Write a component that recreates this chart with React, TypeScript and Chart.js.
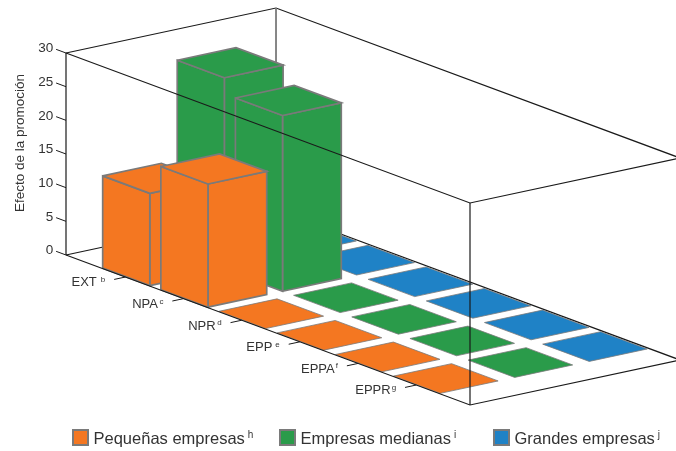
import React, { useEffect, useRef } from "react";
import { Chart, registerables } from "chart.js";

Chart.register(...registerables);

const categories = ["EXT", "NPA", "NPR", "EPP", "EPPA", "EPPR"];
const categoryNotes = ["b", "c", "d", "e", "f", "g"];
const seriesNames = ["Pequeñas empresas", "Empresas medianas", "Grandes empresas"];
const seriesNotes = ["h", "i", "j"];
const pequenas = [13.7, 18.3, 0, 0, 0, 0];
const medianas = [28.5, 26.1, 0, 0, 0, 0];
const grandes = [0, 0, 0, 0, 0, 0];
const seriesValues = [pequenas, medianas, grandes];
const colors = ["#f47721", "#2a9b4a", "#1f82c6"];
const valueTicks = [0, 5, 10, 15, 20, 25, 30];
const axisTitle = "Efecto de la promoción";

const noteGaps = [4, 1.5, 1.5, 3, 1, 1];
const EDGE = "#7a7a7a";
const INK = "#1a1a1a";
const TEXT = "#333333";
const FONT = '"Liberation Sans", Arial, sans-serif';

// Oblique projection: c = position along category axis, s = along series axis, v = value
const S_X = 1.2814;
const S_Y = 2.373;
const C_Y = 3.208;
const C_END = 6.944;
const S_END = 2.817;
const V_END = 30;
const project = (c: number, s: number, v: number) => ({
  x: c + s * S_X,
  y: v - c * C_Y + s * S_Y,
});
const poly = (pts: number[][]) => pts.map(([c, s, v]) => project(c, s, v));

type Mark = { data: { x: number; y: number }[]; fill?: string; color: string; width: number };

function buildMarks(): Mark[] {
  const marks: Mark[] = [];
  const line = (pts: number[][], color = INK, width = 1.2) =>
    marks.push({ data: poly(pts), color, width });

  // back frame
  line([[0, 0, 0], [0, S_END, 0]]);
  line([[0, S_END, 0], [C_END, S_END, 0]]);
  line([[0, 0, V_END], [0, S_END, V_END], [C_END, S_END, V_END]]);
  line([[0, S_END, 0], [0, S_END, V_END]], EDGE, 1.8);
  line([[0, 0, 0], [0, 0, V_END]]);

  // boxes, back to front
  for (let si = seriesValues.length - 1; si >= 0; si--) {
    categories.forEach((_, ci) => {
      const v = seriesValues[si][ci];
      const c0 = ci + 0.615;
      const s0 = si + 0.012;
      const c1 = ci + (v > 0 ? 1.425 : 1.415);
      const s1 = si + (v > 0 ? 0.8 : 0.79);
      const face = (pts: number[][], width: number) =>
        marks.push({ data: poly([...pts, pts[0]]), fill: colors[si], color: EDGE, width });
      if (v > 0) {
        face([[c1, s0, 0], [c1, s1, 0], [c1, s1, v], [c1, s0, v]], 1.7);
        face([[c0, s0, 0], [c1, s0, 0], [c1, s0, v], [c0, s0, v]], 1.7);
        face([[c0, s0, v], [c1, s0, v], [c1, s1, v], [c0, s1, v]], 1.7);
      } else {
        face([[c0, s0, 0], [c1, s0, 0], [c1, s1, 0], [c0, s1, 0]], 0.8);
      }
    });
  }

  // front frame, over the boxes
  line([[0, 0, V_END], [C_END, 0, V_END], [C_END, S_END, V_END]]);
  line([[0, 0, 0], [C_END, 0, 0], [C_END, S_END, 0]]);
  line([[C_END, 0, 0], [C_END, 0, V_END]]);

  // axis ticks
  valueTicks.forEach((v) => line([[-0.17, 0, v], [0, 0, v]], INK, 1));
  categories.forEach((_, i) => line([[i + 1.02, -0.15, 0], [i + 1.02, 0, 0]], INK, 1));
  return marks;
}

const labelsPlugin = {
  id: "labels3d",
  afterDraw(chart: any) {
    const { ctx, scales } = chart;
    const px = (p: { x: number; y: number }) => ({
      x: scales.x.getPixelForValue(p.x),
      y: scales.y.getPixelForValue(p.y),
    });
    ctx.save();
    ctx.fillStyle = TEXT;
    ctx.textBaseline = "middle";

    ctx.textAlign = "right";
    ctx.font = `13.5px ${FONT}`;
    valueTicks.forEach((v) => {
      const p = px(project(-0.22, 0, v));
      ctx.fillText(String(v), p.x, p.y + 0.5);
    });

    categories.forEach((name, i) => {
      const p = px(project(i + 1.02, -0.27, 0));
      ctx.font = `8px ${FONT}`;
      ctx.fillText(categoryNotes[i], p.x, p.y - 1.5);
      const w = ctx.measureText(categoryNotes[i]).width;
      ctx.font = `13px ${FONT}`;
      ctx.fillText(name, p.x - w - noteGaps[i], p.y + 1.5);
    });

    ctx.save();
    ctx.translate(20, 143);
    ctx.rotate(-Math.PI / 2);
    ctx.textAlign = "center";
    ctx.font = `13.5px ${FONT}`;
    ctx.fillText(axisTitle, 0, 0);
    ctx.restore();

    // legend
    const boxX = [73, 280, 494];
    seriesNames.forEach((name, i) => {
      const x = boxX[i];
      ctx.fillStyle = colors[i];
      ctx.strokeStyle = EDGE;
      ctx.lineWidth = 2;
      ctx.fillRect(x, 430, 15, 15);
      ctx.strokeRect(x, 430, 15, 15);
      ctx.fillStyle = TEXT;
      ctx.textAlign = "left";
      ctx.textBaseline = "alphabetic";
      ctx.font = `16.5px ${FONT}`;
      ctx.fillText(name, x + 20.5, 444);
      const w = ctx.measureText(name).width;
      ctx.font = `10px ${FONT}`;
      ctx.fillText(seriesNotes[i], x + 20.5 + w + 3, 438);
    });
    ctx.restore();
  },
};

export default function App() {
  const ref = useRef<HTMLCanvasElement>(null);
  useEffect(() => {
    document.body.style.margin = "0";
    const marks = buildMarks();
    const chart = new Chart(ref.current as HTMLCanvasElement, {
      type: "line",
      data: {
        datasets: marks.map((m, i) => ({
          data: m.data,
          order: -i,
          borderColor: m.color,
          borderWidth: m.width,
          backgroundColor: m.fill ?? "transparent",
          fill: m.fill ? "shape" : false,
          pointRadius: 0,
          tension: 0,
          borderJoinStyle: "miter",
          clip: false,
        })),
      } as any,
      options: {
        animation: false,
        responsive: false,
        devicePixelRatio: 1,
        layout: { padding: 0 },
        events: [],
        plugins: { legend: { display: false }, tooltip: { enabled: false }, title: { display: false } },
        scales: {
          x: { type: "linear", display: false, min: -66 / 58.18, max: 610 / 58.18 },
          y: { type: "linear", display: false, min: -196 / 6.733, max: 255 / 6.733 },
        },
      },
      plugins: [labelsPlugin],
    } as any);
    return () => chart.destroy();
  }, []);
  return (
    <canvas
      ref={ref}
      width={676}
      height={451}
      style={{ display: "block", position: "absolute", left: 0, top: 0 }}
    />
  );
}
